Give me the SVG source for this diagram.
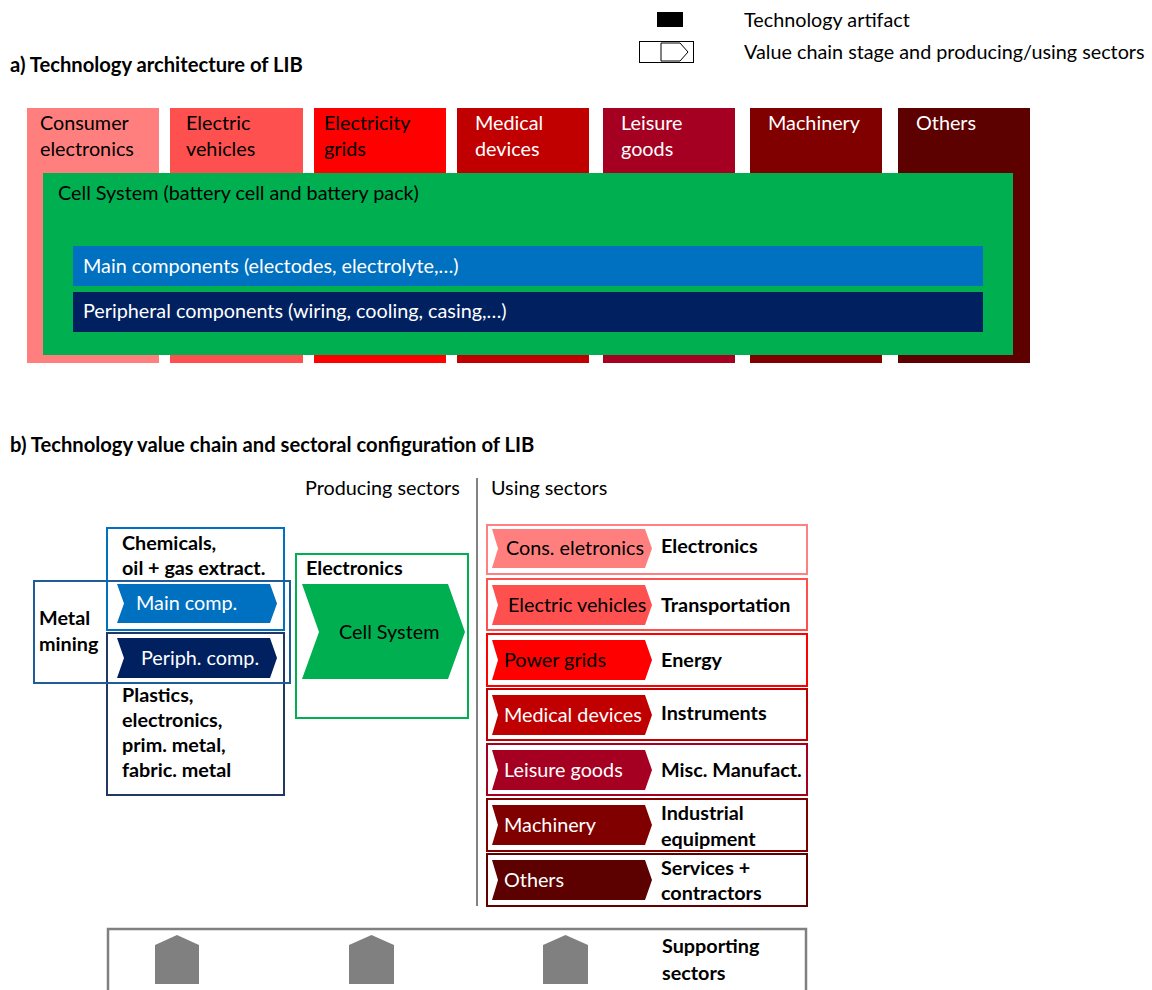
<svg xmlns="http://www.w3.org/2000/svg" width="1152" height="990" viewBox="0 0 1152 990">
<style>
text{font-family:Lato,"Liberation Sans",sans-serif;}
.r{font-size:19.8px;}
.b{font-size:19.8px;font-weight:bold;}
.t{font-size:20.2px;font-weight:bold;}
.w{fill:#fff;}
.ob{fill:none;stroke-width:2;}
</style>
<rect width="1152" height="990" fill="#fff"/>

<g id="legend">
<rect x="657" y="12" width="26" height="15" fill="#000"/>
<rect x="639.5" y="41.5" width="54" height="21" fill="#fff" stroke="#000" stroke-width="1"/>
<polygon points="661,43 680,43 688,52 680,61 661,61" fill="#fff" stroke="#000" stroke-width="1"/>
<text x="744" y="27" class="r">Technology artifact</text>
<text x="744" y="59" class="r">Value chain stage and producing/using sectors</text>
</g>

<text x="10" y="72" class="t">a) Technology architecture of LIB</text>

<g id="top-sectors">
<g id="s-consumer"><rect x="27" y="108" width="132" height="255" fill="#FF7F7F"/><text x="40" y="130" class="r">Consumer</text><text x="40" y="156" class="r">electronics</text></g>
<g id="s-ev"><rect x="170" y="108" width="133" height="255" fill="#FF5050"/><text x="186" y="130" class="r">Electric</text><text x="186" y="156" class="r">vehicles</text></g>
<g id="s-grids"><rect x="314" y="108" width="132" height="255" fill="#FF0000"/><text x="324" y="130" class="r">Electricity</text><text x="324" y="156" class="r">grids</text></g>
<g id="s-medical"><rect x="457" y="108" width="132" height="255" fill="#C00000"/><text x="475" y="130" class="r w">Medical</text><text x="475" y="156" class="r w">devices</text></g>
<g id="s-leisure"><rect x="603" y="108" width="132" height="255" fill="#A50021"/><text x="621" y="130" class="r w">Leisure</text><text x="621" y="156" class="r w">goods</text></g>
<g id="s-machinery"><rect x="750" y="108" width="132" height="255" fill="#800000"/><text x="768" y="130" class="r w">Machinery</text></g>
<g id="s-others"><rect x="898" y="108" width="132" height="255" fill="#5C0000"/><text x="916" y="130" class="r w">Others</text></g>
</g>

<g id="cell-system-a">
<rect x="43" y="173" width="970" height="182" fill="#00B050"/>
<text x="58" y="200" class="r">Cell System (battery cell and battery pack)</text>
</g>
<g id="main-components-a">
<rect x="73" y="246" width="910" height="40" fill="#0070C0"/>
<text x="83" y="273" class="r w">Main components (electodes, electrolyte,…)</text>
</g>
<g id="peripheral-components-a">
<rect x="73" y="292" width="910" height="40" fill="#002060"/>
<text x="83" y="318" class="r w">Peripheral components (wiring, cooling, casing,…)</text>
</g>

<text x="10" y="452" class="t">b) Technology value chain and sectoral configuration of LIB</text>

<text x="305" y="495" class="r">Producing sectors</text>
<text x="491" y="495" class="r">Using sectors</text>

<g id="connectors">
<line x1="477" y1="478" x2="477" y2="906" stroke="#595959" stroke-width="1.5"/>
</g>

<g id="chemicals">
<rect x="107" y="528" width="177" height="102" class="ob" stroke="#0070C0"/>
<text x="122" y="550" class="b">Chemicals,</text>
<text x="122" y="575" class="b">oil + gas extract.</text>
</g>
<g id="plastics">
<rect x="107" y="633" width="177" height="162" class="ob" stroke="#1F3864"/>
<text x="122" y="702" class="b">Plastics,</text>
<text x="122" y="727" class="b">electronics,</text>
<text x="122" y="752" class="b">prim. metal,</text>
<text x="122" y="777" class="b">fabric. metal</text>
</g>
<g id="metal-mining">
<rect x="34" y="581" width="256" height="102" class="ob" stroke="#1F5C99"/>
<text x="39" y="625" class="b">Metal</text>
<text x="39" y="651" class="b">mining</text>
</g>
<g id="main-comp">
<polygon points="117,584 270,584 277,603.5 270,623 117,623 124,603.5" fill="#0070C0"/>
<text x="136" y="610" class="r w">Main comp.</text>
</g>
<g id="periph-comp">
<polygon points="117,638 270,638 277,658 270,678 117,678 124,658" fill="#002060"/>
<text x="141" y="665" class="r w">Periph. comp.</text>
</g>

<g id="electronics-producing">
<rect x="296" y="554" width="172" height="164" class="ob" stroke="#00B050"/>
<text x="306" y="575" class="b">Electronics</text>
<polygon points="302,584 448,584 465,632 448,679 302,679 319,632" fill="#00B050"/>
<text x="339" y="639" class="r">Cell System</text>
</g>

<g id="u-electronics">
<rect x="487" y="525" width="320" height="49" class="ob" stroke="#FF8080"/>
<polygon points="492,529 645,529 652,548.5 645,568 492,568 498,548.5" fill="#FF7F7F"/>
<text x="506" y="555" class="r">Cons. eletronics</text>
<text x="661" y="553" class="b">Electronics</text>
</g>
<g id="u-transportation">
<rect x="487" y="579" width="320" height="51" class="ob" stroke="#FF5050"/>
<polygon points="492,585 645,585 652,605 645,625 492,625 498,605" fill="#FF5050"/>
<text x="508" y="612" class="r">Electric vehicles</text>
<text x="661" y="612" class="b">Transportation</text>
</g>
<g id="u-energy">
<rect x="487" y="634" width="320" height="52" class="ob" stroke="#FF0000"/>
<polygon points="492,640 645,640 652,660 645,680 492,680 498,660" fill="#FF0000"/>
<text x="504" y="667" class="r">Power grids</text>
<text x="661" y="667" class="b">Energy</text>
</g>
<g id="u-instruments">
<rect x="487" y="689" width="320" height="51" class="ob" stroke="#C00000"/>
<polygon points="492,695 645,695 652,715 645,735 492,735 498,715" fill="#C00000"/>
<text x="504" y="722" class="r w">Medical devices</text>
<text x="661" y="720" class="b">Instruments</text>
</g>
<g id="u-misc">
<rect x="487" y="744" width="320" height="51" class="ob" stroke="#A50021"/>
<polygon points="492,750 645,750 652,770 645,790 492,790 498,770" fill="#A50021"/>
<text x="504" y="777" class="r w">Leisure goods</text>
<text x="661" y="777" class="b">Misc. Manufact.</text>
</g>
<g id="u-industrial">
<rect x="487" y="799" width="320" height="52" class="ob" stroke="#800000"/>
<polygon points="492,805 645,805 652,825 645,845 492,845 498,825" fill="#800000"/>
<text x="504" y="832" class="r w">Machinery</text>
<text x="661" y="820" class="b">Industrial</text>
<text x="661" y="846" class="b">equipment</text>
</g>
<g id="u-services">
<rect x="487" y="854" width="320" height="52" class="ob" stroke="#600000"/>
<polygon points="492,860 645,860 652,880 645,900 492,900 498,880" fill="#5C0000"/>
<text x="504" y="887" class="r w">Others</text>
<text x="661" y="875" class="b">Services +</text>
<text x="661" y="900" class="b">contractors</text>
</g>

<g id="supporting-sectors">
<rect x="108" y="929" width="698" height="80" fill="none" stroke="#808080" stroke-width="2.5"/>
<polygon points="155,945 177,935 199,945 199,984 155,984" fill="#808080"/>
<polygon points="349,945 371.5,935 394,945 394,984 349,984" fill="#808080"/>
<polygon points="543,945 565.5,935 588,945 588,984 543,984" fill="#808080"/>
<text x="662" y="953" class="b">Supporting</text>
<text x="662" y="980" class="b">sectors</text>
</g>
</svg>
